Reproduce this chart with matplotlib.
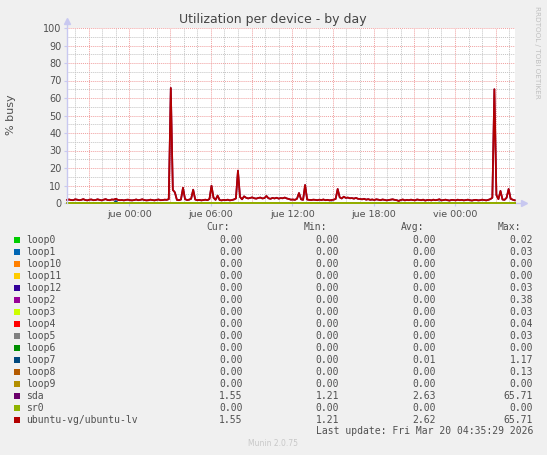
import numpy as np
import matplotlib
matplotlib.use('Agg')
import matplotlib.pyplot as plt
from matplotlib.patches import Rectangle

# Munin diskstats utilization, day view
W, H = 547, 455

devices = ['loop0', 'loop1', 'loop10', 'loop11', 'loop12', 'loop2', 'loop3', 'loop4',
           'loop5', 'loop6', 'loop7', 'loop8', 'loop9', 'sda', 'sr0', 'ubuntu-vg/ubuntu-lv']
colors = ['#00CC00', '#0066B3', '#FF8000', '#FFCC00', '#330099', '#990099', '#CCFF00', '#FF0000',
          '#808080', '#008F00', '#00487D', '#B35A00', '#B38F00', '#6B006B', '#8FB300', '#B30000']
cur = ['0.00', '0.00', '0.00', '0.00', '0.00', '0.00', '0.00', '0.00',
       '0.00', '0.00', '0.00', '0.00', '0.00', '1.55', '0.00', '1.55']
mins = ['0.00', '0.00', '0.00', '0.00', '0.00', '0.00', '0.00', '0.00',
        '0.00', '0.00', '0.00', '0.00', '0.00', '1.21', '0.00', '1.21']
avgs = ['0.00', '0.00', '0.00', '0.00', '0.00', '0.00', '0.00', '0.00',
        '0.00', '0.00', '0.01', '0.00', '0.00', '2.63', '0.00', '2.62']
maxs = ['0.02', '0.03', '0.00', '0.00', '0.03', '0.38', '0.03', '0.04',
        '0.03', '0.00', '1.17', '0.13', '0.00', '65.71', '0.00', '65.71']

# sampled every 0.15 h starting at -4.6 h (hours relative to jue 00:00)
sda = [1.8, 2.0, 1.7, 1.6, 2.1, 1.9, 1.6, 1.8, 2.2, 1.7,
       1.5, 1.9, 2.0, 1.6, 1.7, 2.1, 1.8, 1.5, 1.9, 2.2,
       1.7, 1.6, 2.0, 1.9, 2.4, 1.8, 1.6, 1.7, 1.5, 1.8,
       1.9, 1.6, 1.5, 1.7, 2.0, 1.6, 1.8, 2.1, 1.7, 1.5,
       1.6, 1.9, 1.7, 1.5, 1.8, 2.0, 1.6, 1.7, 1.9, 1.8,
       2.2, 65.71, 7.5, 6.1, 1.8, 1.6, 2.0, 8.7, 2.2, 1.7,
       1.9, 2.4, 7.6, 2.0, 1.6, 1.8, 1.5, 1.7, 1.9, 1.6,
       2.3, 9.9, 3.0, 1.8, 4.2, 1.7, 1.5, 1.8, 1.6, 1.9,
       1.5, 1.7, 2.0, 2.6, 18.5, 3.5, 2.1, 3.8, 3.0, 2.6,
       2.9, 3.2, 2.7, 2.5, 2.9, 3.1, 2.6, 2.8, 4.0, 2.7,
       2.4, 2.9, 2.6, 3.0, 2.5, 2.8, 2.7, 3.1, 2.6, 2.3,
       1.9, 2.0, 1.8, 2.4, 5.7, 2.1, 1.8, 10.3, 2.0, 1.8,
       1.7, 1.9, 1.8, 1.6, 1.9, 1.7, 2.0, 1.6, 1.8, 1.5,
       1.7, 1.9, 2.3, 8.0, 3.2, 2.6, 3.6, 2.9, 3.1, 2.7,
       2.8, 2.5, 2.9, 2.4, 2.3, 2.1, 2.4, 1.9, 2.2, 1.8,
       2.0, 1.7, 2.1, 1.9, 1.6, 2.0, 1.8, 1.5, 1.7, 1.9,
       2.1, 1.8, 1.6, 1.21, 1.7, 2.0, 1.5, 1.8, 1.6, 1.9,
       1.7, 1.5, 2.0, 1.8, 1.6, 1.9, 1.4, 1.7, 1.8, 1.5,
       1.9, 1.6, 1.8, 2.1, 1.5, 1.7, 1.9, 1.6, 1.4, 1.8,
       1.7, 1.5, 1.9, 1.6, 1.8, 1.5, 1.7, 1.9, 1.6, 1.4,
       1.7, 1.8, 1.5, 1.6, 1.9, 1.7, 1.5, 1.8, 2.2, 3.0,
       65.0, 4.5, 2.2, 6.9, 2.0, 1.8, 3.0, 8.0, 2.4, 1.9,
       1.55]
ubuntu_lv = list(sda)
# loop devices are flat at zero apart from these samples (sample index, value)
loop_peaks = {'loop7': [(24, 1.17), (130, 0.3), (183, 0.3)],
              'loop2': [(24, 0.38)]}

x_labels = ['jue 00:00', 'jue 06:00', 'jue 12:00', 'jue 18:00', 'vie 00:00']
x_label_hours = [0, 6, 12, 18, 24]

t = np.arange(len(sda)) * 0.15 - 4.6

def fx(px):
    return px / W

def fy(py):
    return 1 - py / H

fig = plt.figure(figsize=(W / 100, H / 100), dpi=100, facecolor='#F0F0F0')
ax = fig.add_axes([fx(67), fy(203), fx(515) - fx(67), fy(28) - fy(203)])
ax.set_facecolor('white')
ax.set_xlim(-4.6, 28.42)
ax.set_ylim(0, 100)
for s in ax.spines.values():
    s.set_visible(False)

# grid
dot = (0, (1, 1))
for h in range(-4, 29):
    if h % 3 == 0:
        ax.axvline(h, color='#F0A0A0', lw=0.7, ls=dot, zorder=1)
    else:
        ax.axvline(h, color='#C4C4C4', lw=0.7, ls=dot, zorder=1)
for v in range(5, 101, 5):
    c = '#F0A0A0' if v % 10 == 0 else '#C4C4C4'
    ax.axhline(v, color=c, lw=0.7, ls=dot, zorder=1)

# series
for name, col in zip(devices, colors):
    if name == 'sda':
        vals = sda
    elif name == 'ubuntu-vg/ubuntu-lv':
        vals = ubuntu_lv
    else:
        vals = np.zeros(len(sda))
        for i, v in loop_peaks.get(name, []):
            vals[i] = v
    ax.plot(t, vals, color=col, lw=1.25, zorder=3, clip_on=False)

# axes with arrows
axis_col = '#C8C8F0'
ax.plot([-4.6, -4.6], [0, 103.5], color=axis_col, lw=1, clip_on=False, zorder=4)
ax.plot([-4.6], [104], marker='^', ms=4, color=axis_col, clip_on=False, zorder=4)
ax.plot([28.42, 29.0], [0, 0], color=axis_col, lw=1, clip_on=False, zorder=2)
ax.plot([29.1], [0], marker='>', ms=4, color=axis_col, clip_on=False, zorder=4)

ax.set_yticks(range(0, 101, 10))
ax.set_xticks(x_label_hours)
ax.set_xticklabels(x_labels)
ax.tick_params(axis='y', length=2, width=0.8, color=axis_col, pad=2, labelsize=7, labelcolor='#505050')
ax.tick_params(axis='x', length=2, width=0.8, color=axis_col, pad=3, labelsize=6.8, labelcolor='#505050')
fig.text(fx(10.5), fy(115), '% busy', rotation=90, ha='center', va='center',
         fontsize=8, color='#505050')

fig.text(fx(273), fy(19), 'Utilization per device - by day', ha='center', va='center',
         fontsize=9, color='#444444')
fig.text(fx(537), fy(52), 'RRDTOOL / TOBI OETIKER', ha='center', va='center', rotation=270,
         fontsize=5.2, color='#C0C0C0')

# legend table
mono = 'DejaVu Sans Mono'
tc = '#505050'
fs = 7
for head, xr in zip(['Cur:', 'Min:', 'Avg:', 'Max:'], [230, 327, 424, 521]):
    fig.text(fx(xr), fy(227.5), head, ha='right', va='center', family=mono, fontsize=fs, color=tc)
for i, name in enumerate(devices):
    yy = 239.7 + 12 * i
    fig.patches.append(Rectangle((fx(14), fy(yy + 3)), fx(5.5), fy(0) - fy(5.5),
                                 transform=fig.transFigure, color=colors[i], lw=0))
    fig.text(fx(26.5), fy(yy), name, ha='left', va='center', family=mono, fontsize=fs, color=tc)
    for val, xr in zip([cur[i], mins[i], avgs[i], maxs[i]], [242.5, 339, 436, 533]):
        fig.text(fx(xr), fy(yy), val, ha='right', va='center', family=mono, fontsize=fs, color=tc)
fig.text(fx(533), fy(431.5), 'Last update: Fri Mar 20 04:35:29 2026', ha='right', va='center',
         family=mono, fontsize=fs, color=tc)
fig.text(fx(273), fy(444), 'Munin 2.0.75', ha='center', va='center', fontsize=5.5, color='#C8C8C8')

fig.savefig('out.png', dpi=100, facecolor=fig.get_facecolor())
